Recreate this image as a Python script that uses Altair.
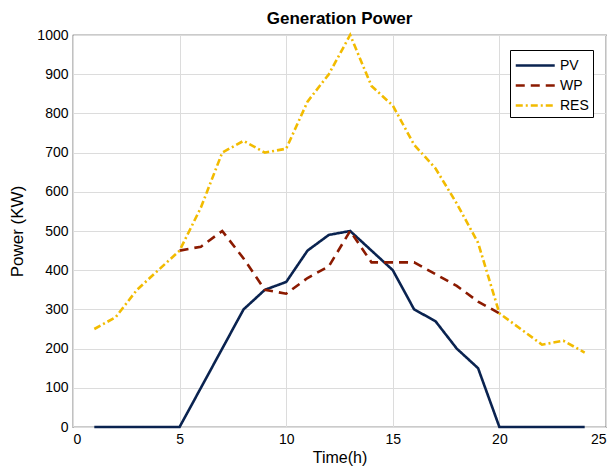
import altair as alt
import pandas as pd

hours = list(range(1, 25))
pv = [0, 0, 0, 0, 0, 100, 200, 300, 350, 370, 450, 490, 500, 450, 400, 300, 270, 200, 150, 0, 0, 0, 0, 0]
# WP line is only visible from hour 5 to hour 20 in the reference
wp = [None, None, None, None, 450, 460, 500, 430, 350, 340, 380, 410, 500, 420, 420, 420, 390, 360, 320, 290, None, None, None, None]
res = [250, 280, 350, 400, 450, 560, 700, 730, 700, 710, 830, 900, 1000, 870, 820, 720, 660, 570, 470, 290, 250, 210, 220, 190]
series = ["PV", "WP", "RES"]
colors = ["#0a2350", "#8b1a00", "#f2bb00"]
dashes = [[1, 0], [9, 6], [7, 3, 2, 3]]

rows = []
for name, vals in zip(series, [pv, wp, res]):
    for h, v in zip(hours, vals):
        if v is not None:
            rows.append({"Time": h, "Power": v, "Series": name})
df = pd.DataFrame(rows)

font = "Liberation Sans"

base = alt.Chart(df).mark_line(strokeWidth=2.6).encode(
    x=alt.X("Time:Q", scale=alt.Scale(domain=[0, 25], nice=False),
            axis=alt.Axis(values=[0, 5, 10, 15, 20, 25], title="Time(h)")),
    y=alt.Y("Power:Q", scale=alt.Scale(domain=[0, 1000], nice=False),
            axis=alt.Axis(values=list(range(0, 1001, 100)), format="d", title="Power (KW)")),
    color=alt.Color("Series:N", scale=alt.Scale(domain=series, range=colors),
                    legend=alt.Legend(title=None, orient="none", legendX=437, legendY=15,
                                      fillColor="white", strokeColor="black", padding=4,
                                      symbolType="M-1,0H3", symbolSize=380, symbolStrokeWidth=2.6,
                                      symbolFillColor="transparent",
                                      labelFont=font, labelFontSize=14, labelColor="black",
                                      labelOffset=23, rowPadding=1)),
    strokeDash=alt.StrokeDash("Series:N", scale=alt.Scale(domain=series, range=dashes),
                              legend=alt.Legend(title=None)),
)

layers = [base.transform_filter(alt.datum.Series == s) for s in series]

chart = alt.layer(*layers).properties(
    width=533, height=392,
    autosize=alt.AutoSizeParams(type="none"),
    padding={"left": 65, "top": 27, "right": 2, "bottom": 48},
    title=alt.TitleParams("Generation Power", font=font, fontSize=17, fontWeight="bold",
                          color="black", offset=0, anchor="middle"),
).configure_axis(
    labelFont=font, labelFontSize=14, labelColor="black",
    titleFont=font, titleFontSize=17, titleColor="black", titleFontWeight="normal",
    gridColor="#dcdcdc", gridWidth=1, ticks=False, domain=False,
    labelPadding=5,
).configure_axisY(titlePadding=10).configure_axisX(titlePadding=3, titleFontSize=16).configure_view(
    stroke="#333333", strokeWidth=1.2
)

chart.save("out.html", embed_options={"renderer": "svg", "actions": False})
